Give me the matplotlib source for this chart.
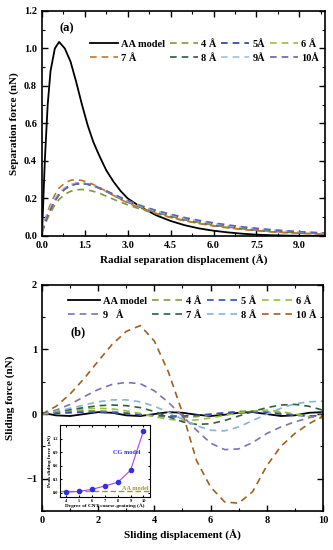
import matplotlib.pyplot as plt
from matplotlib.ticker import MultipleLocator

plt.rcParams['font.family'] = ['Liberation Serif', 'DejaVu Serif']
plt.rcParams['font.weight'] = 'bold'
plt.rcParams['axes.labelweight'] = 'bold'

# ---- panel (a): separation force vs radial displacement ----
xa = [0, 0.05, 0.1, 0.2, 0.3, 0.45, 0.6, 0.8, 1.0, 1.2, 1.4, 1.6, 1.8, 2.0, 2.25, 2.5,
      2.75, 3.0, 3.5, 4.0, 4.5, 5.0, 5.5, 6.0, 6.5, 7.0, 7.5, 8.0, 8.5, 9.0, 9.5, 9.9]
aa_a = [0, 0.2, 0.4, 0.7, 0.88, 1.0, 1.035, 1.0, 0.93, 0.82, 0.7, 0.59, 0.5, 0.43, 0.35, 0.29,
        0.24, 0.2, 0.15, 0.11, 0.08, 0.057, 0.04, 0.028, 0.019, 0.012, 0.007, 0.004, 0.002, 0.001, 0, 0]
cg_a = {
    '4': [0.02, 0.04, 0.06, 0.095, 0.125, 0.165, 0.195, 0.222, 0.238, 0.246, 0.248, 0.245, 0.238, 0.228, 0.212, 0.196,
          0.18, 0.166, 0.14, 0.119, 0.099, 0.081, 0.067, 0.055, 0.045, 0.036, 0.029, 0.023, 0.018, 0.015, 0.012, 0.01],
    '5': [0.02, 0.045, 0.07, 0.11, 0.145, 0.19, 0.225, 0.255, 0.272, 0.281, 0.282, 0.277, 0.268, 0.255, 0.237, 0.217,
          0.198, 0.18, 0.15, 0.126, 0.105, 0.086, 0.071, 0.058, 0.048, 0.039, 0.032, 0.026, 0.021, 0.017, 0.014, 0.012],
    '6': [0.02, 0.04, 0.065, 0.105, 0.14, 0.185, 0.22, 0.25, 0.268, 0.277, 0.279, 0.275, 0.267, 0.255, 0.238, 0.219,
          0.2, 0.182, 0.152, 0.128, 0.107, 0.088, 0.073, 0.06, 0.05, 0.041, 0.034, 0.028, 0.023, 0.019, 0.015, 0.013],
    '7': [0.02, 0.05, 0.08, 0.13, 0.17, 0.22, 0.255, 0.283, 0.297, 0.3, 0.296, 0.287, 0.274, 0.259, 0.238, 0.216,
          0.195, 0.176, 0.145, 0.12, 0.099, 0.081, 0.066, 0.053, 0.043, 0.035, 0.028, 0.022, 0.018, 0.014, 0.011, 0.009],
    '8': [0.02, 0.045, 0.07, 0.11, 0.145, 0.188, 0.222, 0.252, 0.27, 0.279, 0.28, 0.276, 0.268, 0.256, 0.239, 0.22,
          0.202, 0.185, 0.155, 0.131, 0.11, 0.092, 0.077, 0.064, 0.053, 0.044, 0.036, 0.03, 0.025, 0.02, 0.016, 0.014],
    '9': [0.02, 0.05, 0.075, 0.12, 0.155, 0.2, 0.232, 0.258, 0.274, 0.281, 0.282, 0.277, 0.268, 0.256, 0.239, 0.221,
          0.203, 0.186, 0.156, 0.132, 0.112, 0.094, 0.079, 0.066, 0.055, 0.046, 0.038, 0.032, 0.027, 0.022, 0.018, 0.015],
    '10': [0.02, 0.042, 0.068, 0.108, 0.142, 0.186, 0.22, 0.25, 0.268, 0.277, 0.279, 0.276, 0.268, 0.257, 0.241, 0.223,
           0.206, 0.19, 0.16, 0.136, 0.116, 0.098, 0.083, 0.07, 0.059, 0.049, 0.041, 0.034, 0.028, 0.023, 0.019, 0.016],
}
colors_a = {'4': '#7f9a3a', '5': '#2b3c9e', '6': '#a8b83c', '7': '#c5762e',
            '8': '#2c5a3c', '9': '#9cc2e2', '10': '#6f5fa6'}
labels_a = {'4': '4 Å', '5': '5Å', '6': '6 Å', '7': '7 Å', '8': '8 Å', '9': '9Å', '10': '10Å'}

# ---- panel (b): sliding force vs sliding displacement ----
xb = [0, 0.5, 1.0, 1.5, 2.0, 2.5, 3.0, 3.5, 4.0, 4.5, 5.0, 5.5, 6.0, 6.5, 7.0, 7.5, 8.0, 8.5, 9.0, 9.5, 10.0]
aa_b = [0.02, -0.02, -0.03, 0.0, 0.03, 0.02, -0.02, -0.03, 0.0, 0.03, 0.02, -0.01, -0.03, -0.01, 0.02, 0.03,
        0.0, -0.03, -0.02, 0.02, 0.03]
cg_b = {
    '4': [0, 0.02, 0.04, 0.05, 0.05, 0.04, 0.02, -0.01, -0.03, -0.05, -0.05, -0.04, -0.01, 0.02, 0.04, 0.05,
          0.04, 0.02, -0.01, -0.03, -0.04],
    '5': [0, 0.01, 0.02, 0.03, 0.03, 0.02, 0.01, -0.01, -0.02, -0.03, -0.03, -0.02, 0.0, 0.02, 0.03, 0.03,
          0.02, 0.0, -0.02, -0.03, -0.02],
    '6': [0, 0.03, 0.06, 0.08, 0.09, 0.08, 0.05, 0.01, -0.04, -0.08, -0.1, -0.09, -0.06, -0.02, 0.02, 0.05,
          0.06, 0.04, 0.0, -0.04, -0.07],
    '9': [0, 0.06, 0.15, 0.27, 0.38, 0.46, 0.49, 0.47, 0.36, 0.18, -0.03, -0.25, -0.45, -0.55, -0.54, -0.44,
          -0.3, -0.2, -0.12, -0.06, 0.02],
    '7': [0, 0.03, 0.07, 0.1, 0.13, 0.14, 0.13, 0.1, 0.04, -0.04, -0.12, -0.16, -0.15, -0.1, -0.03, 0.04,
          0.1, 0.14, 0.15, 0.12, 0.06],
    '8': [0, 0.04, 0.09, 0.14, 0.19, 0.22, 0.22, 0.19, 0.12, 0.03, -0.08, -0.18, -0.25, -0.26, -0.2, -0.1,
          0.0, 0.09, 0.16, 0.19, 0.2],
    '10': [0, 0.12, 0.31, 0.55, 0.82, 1.08, 1.28, 1.37, 1.13, 0.65, 0.02, -0.72, -1.13, -1.36, -1.38, -1.2,
           -0.8, -0.5, -0.3, -0.15, -0.03],
}
colors_b = {'4': '#8a9a3e', '5': '#3050a6', '6': '#96c040', '9': '#8070b4',
            '7': '#2f6040', '8': '#86b4d8', '10': '#a0601e'}
labels_b = {'4': '4 Å', '5': '5 Å', '6': '6 Å', '9': '9   Å', '7': '7 Å', '8': '8 Å', '10': '10 Å'}

# ---- inset: peak sliding force vs degree of coarse-graining ----
cg_deg = [4, 5, 6, 7, 8, 9, 10]
peak_force = [0.01, 0.03, 0.075, 0.15, 0.23, 0.5, 1.37]
aa_peak = 0.04

fig = plt.figure(figsize=(3.33, 5.5), dpi=100)

# legend fills column-wise, so reorder to read row-wise like the original
order = [0, 4, 1, 5, 2, 6, 3, 7]

ax1 = fig.add_axes([0.126, 0.571, 0.85, 0.409])
ax1.plot(xa, aa_a, color='black', lw=1.3, label='AA model')
for k in ['4', '5', '6', '7', '8', '9', '10']:
    ax1.plot(xa, cg_a[k], '--', color=colors_a[k], lw=1.2, dashes=(4, 3), label=labels_a[k])
h, l = ax1.get_legend_handles_labels()
ax1.legend([h[i] for i in order], [l[i] for i in order], ncol=4, loc='upper right',
           bbox_to_anchor=(1.0, 0.9), frameon=False, fontsize=7.5, handlelength=2.7,
           columnspacing=0.45, handletextpad=0.3, labelspacing=0.45, borderaxespad=0.2)
ax1.set_xlim(0, 9.9)
ax1.set_ylim(0, 1.2)
ax1.xaxis.set_minor_locator(MultipleLocator(0.75))
ax1.yaxis.set_major_locator(MultipleLocator(0.2))
ax1.yaxis.set_minor_locator(MultipleLocator(0.1))
ax1.set_xticks([0, 1.5, 3.0, 4.5, 6.0, 7.5, 9.0])
ax1.set_xticklabels(['0.0', '1.5', '3.0', '4.5', '6.0', '7.5', '9.0'])
ax1.set_xlabel('Radial separation displacement (Å)', fontsize=8, labelpad=4)
ax1.set_ylabel('Separation force (nN)', fontsize=8, labelpad=4)
ax1.text(0.6, 1.11, '(a)', fontsize=9, fontweight='bold', ha='left', va='center')

ax2 = fig.add_axes([0.126, 0.071, 0.844, 0.411])
ax2.plot(xb, aa_b, color='black', lw=1.3, label='AA model')
for k in ['4', '5', '6', '9', '7', '8', '10']:
    ax2.plot(xb, cg_b[k], '--', color=colors_b[k], lw=1.2, dashes=(4, 3), label=labels_b[k])
h, l = ax2.get_legend_handles_labels()
ax2.legend([h[i] for i in order], [l[i] for i in order], ncol=4, loc='upper right',
           bbox_to_anchor=(1.0, 0.975), frameon=False, fontsize=7.5, handlelength=3.0,
           columnspacing=0.5, handletextpad=0.3, labelspacing=0.4, borderaxespad=0.2)
ax2.set_xlim(0, 10)
ax2.set_ylim(-1.5, 2)
ax2.xaxis.set_major_locator(MultipleLocator(2))
ax2.xaxis.set_minor_locator(MultipleLocator(1))
ax2.yaxis.set_major_locator(MultipleLocator(1))
ax2.yaxis.set_minor_locator(MultipleLocator(0.5))
ax2.set_xlabel('Sliding displacement (Å)', fontsize=8, labelpad=4)
ax2.set_ylabel('Sliding force (nN)', fontsize=8, labelpad=8)
ax2.text(1.0, 1.27, '(b)', fontsize=9, fontweight='bold', ha='left', va='center')

for ax in (ax1, ax2):
    ax.tick_params(which='both', direction='in', top=True, right=True, labelsize=7.5)
    ax.tick_params(which='major', length=4, width=1)
    ax.tick_params(which='minor', length=2, width=0.8)
    for s in ax.spines.values():
        s.set_linewidth(1.2)

ins = fig.add_axes([0.180, 0.096, 0.270, 0.131])
ins.axhline(aa_peak, color='#9a9a30', lw=1.0, ls='--', dashes=(4, 2))
ins.plot(cg_deg, peak_force, '-', color='#b040e0', lw=0.8, marker='o', ms=3,
         mfc='#3030e0', mec='#3030e0')
ins.set_xlim(3.5, 10.5)
ins.set_ylim(-0.1, 1.5)
ins.set_xticks(cg_deg)
ins.set_yticks([0.0, 0.3, 0.6, 0.9, 1.2])
ins.tick_params(direction='in', top=True, right=True, labelsize=3.2, length=1.5, pad=1)
ins.set_xlabel('Degree of CNT coarse-graining (Å)', fontsize=3.8, labelpad=0.5)
ins.set_ylabel('Peak sliding force (nN)', fontsize=3.8, labelpad=0.5)
ins.text(0.74, 0.62, 'CG model', transform=ins.transAxes, color='#3030e0', fontsize=4.5,
         ha='center', va='center')
ins.text(0.84, 0.12, 'AA model', transform=ins.transAxes, color='#9a9a30', fontsize=4.5,
         ha='center', va='center')

fig.savefig('out.png', dpi=100)
